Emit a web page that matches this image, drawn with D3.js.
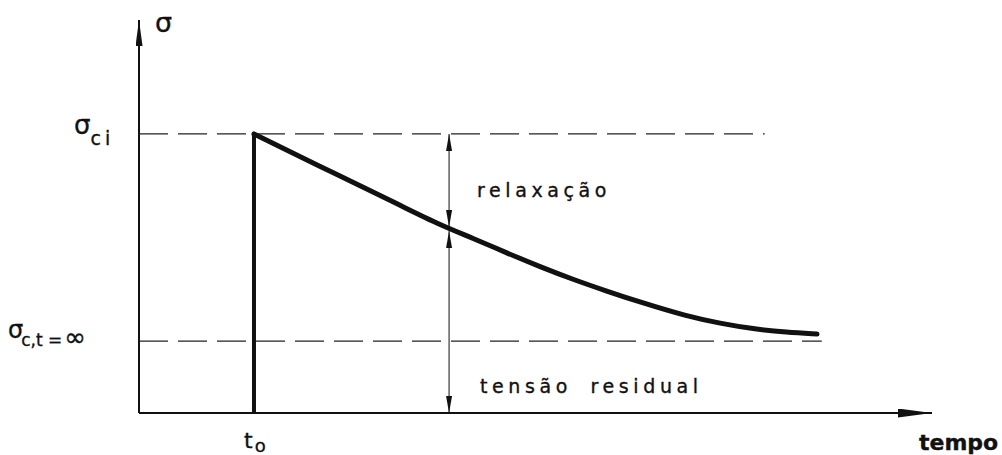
<!DOCTYPE html>
<html>
<head>
<meta charset="utf-8">
<script src="https://cdnjs.cloudflare.com/ajax/libs/d3/7.8.5/d3.min.js"></script>
<style>
  body { margin: 0; background: #fff; }
  text { font-family: "DejaVu Sans", sans-serif; fill: #111; stroke: #111; stroke-width: 0.35; }
</style>
</head>
<body>
<div id="chart"></div>
<script>
// relaxation curve (time, stress) in arbitrary units
const curveTime   = [14.5, 25.3, 32.9, 38.0, 42.1, 46.4, 50.6, 54.7, 59.0, 63.2, 69.1, 73.3, 77.4, 81.7, 85.5];
const curveStress = [71.0, 60.3, 52.9, 47.8, 44.5, 40.7, 37.2, 34.0, 31.0, 28.2, 24.6, 22.8, 21.4, 20.5, 20.1];

const t0 = 14.5;          // load applied
const tMark = 39.1;       // where relaxation is measured
const sigmaMark = 46.8;   // stress on the curve at tMark
const sigmaCi = 71.0;     // initial stress
const sigmaInf = 18.3;    // residual stress at t = inf
const refLineEnd = [78.9, 86.1];   // end of the dashed reference lines

const labels = {
    yAxis: "σ",
    xAxis: "tempo",
    relax: "relaxação",
    resid: "tensão residual"
};

const width = 1002, height = 455;
const svg = d3.select("#chart").append("svg")
    .attr("width", width)
    .attr("height", height);

// scales
const x = d3.scaleLinear().domain([0, 100]).range([139, 932]);
const y = d3.scaleLinear().domain([0, 100]).range([413, 20]);

// arrowheads
const defs = svg.append("defs");
function marker(id, w, h) {
    defs.append("marker")
        .attr("id", id)
        .attr("viewBox", `0 0 ${w} ${h}`)
        .attr("refX", w).attr("refY", h / 2)
        .attr("markerWidth", w).attr("markerHeight", h)
        .attr("markerUnits", "userSpaceOnUse")
        .attr("orient", "auto-start-reverse")
        .append("path")
        .attr("d", `M0,0 L${w},${h / 2} L0,${h} Z`)
        .attr("fill", "#111");
}
marker("axisArrowY", 26, 7);
marker("axisArrowX", 34, 9);
marker("dimArrow", 17, 6);

// axes
svg.append("line")
    .attr("x1", x(0)).attr("y1", y(0))
    .attr("x2", x(0)).attr("y2", y(100))
    .attr("stroke", "#111").attr("stroke-width", 2)
    .attr("marker-end", "url(#axisArrowY)");
svg.append("line")
    .attr("x1", x(0)).attr("y1", y(0))
    .attr("x2", x(100)).attr("y2", y(0))
    .attr("stroke", "#111").attr("stroke-width", 2.2)
    .attr("marker-end", "url(#axisArrowX)");

// dashed reference lines
svg.selectAll(".ref")
    .data([sigmaCi, sigmaInf])
    .enter().append("line")
    .attr("class", "ref")
    .attr("x1", x(0))
    .attr("x2", (d, i) => x(refLineEnd[i]))
    .attr("y1", d => y(d)).attr("y2", d => y(d))
    .attr("stroke", "#222").attr("stroke-width", 1.3)
    .attr("stroke-dasharray", "29,10");

// vertical step at t0
svg.append("line")
    .attr("x1", x(t0)).attr("x2", x(t0))
    .attr("y1", y(0)).attr("y2", y(sigmaCi))
    .attr("stroke", "#111").attr("stroke-width", 4);

// relaxation curve
const pts = curveTime.map((t, i) => [t, curveStress[i]]);
const line = d3.line()
    .x(d => x(d[0]))
    .y(d => y(d[1]))
    .curve(d3.curveBasis);
svg.append("path")
    .datum(pts)
    .attr("d", line)
    .attr("fill", "none")
    .attr("stroke", "#111")
    .attr("stroke-width", 5)
    .attr("stroke-linecap", "round");

// dimension lines at tMark
svg.append("line")
    .attr("x1", x(tMark)).attr("x2", x(tMark))
    .attr("y1", y(sigmaMark) - 2).attr("y2", y(sigmaCi))
    .attr("stroke", "#111").attr("stroke-width", 1)
    .attr("marker-start", "url(#dimArrow)")
    .attr("marker-end", "url(#dimArrow)");
svg.append("line")
    .attr("x1", x(tMark)).attr("x2", x(tMark))
    .attr("y1", y(sigmaMark) + 2).attr("y2", y(0))
    .attr("stroke", "#111").attr("stroke-width", 1)
    .attr("marker-start", "url(#dimArrow)")
    .attr("marker-end", "url(#dimArrow)");

// labels
svg.append("text")
    .attr("x", 155).attr("y", 32)
    .attr("font-size", 27)
    .text(labels.yAxis);

const ci = svg.append("text")
    .attr("x", 74).attr("y", 134)
    .attr("font-size", 26);
ci.append("tspan").text("σ");
ci.append("tspan").attr("font-size", 19).attr("dy", 11).attr("letter-spacing", 4).text("ci");

const inf = svg.append("text")
    .attr("x", 8).attr("y", 338)
    .attr("font-size", 24);
inf.append("tspan").text("σ");
inf.append("tspan").attr("font-size", 17).attr("dy", 8).attr("dx", -2).text("c,t =");
inf.append("tspan").attr("font-size", 26).attr("dx", 2).text("∞");

const tz = svg.append("text")
    .attr("x", 244).attr("y", 448)
    .attr("font-size", 22);
tz.append("tspan").text("t");
tz.append("tspan").attr("font-size", 18).attr("dy", 4).attr("dx", 2).text("o");

svg.append("text")
    .attr("x", 919).attr("y", 450)
    .attr("font-size", 22).attr("font-weight", "bold")
    .text(labels.xAxis);

svg.append("text")
    .attr("x", 477).attr("y", 197)
    .attr("font-size", 19).attr("letter-spacing", 4.6)
    .text(labels.relax);

svg.append("text")
    .attr("x", 480).attr("y", 393)
    .attr("font-size", 19).attr("letter-spacing", 4.6)
    .attr("word-spacing", 8)
    .text(labels.resid);
</script>
</body>
</html>
